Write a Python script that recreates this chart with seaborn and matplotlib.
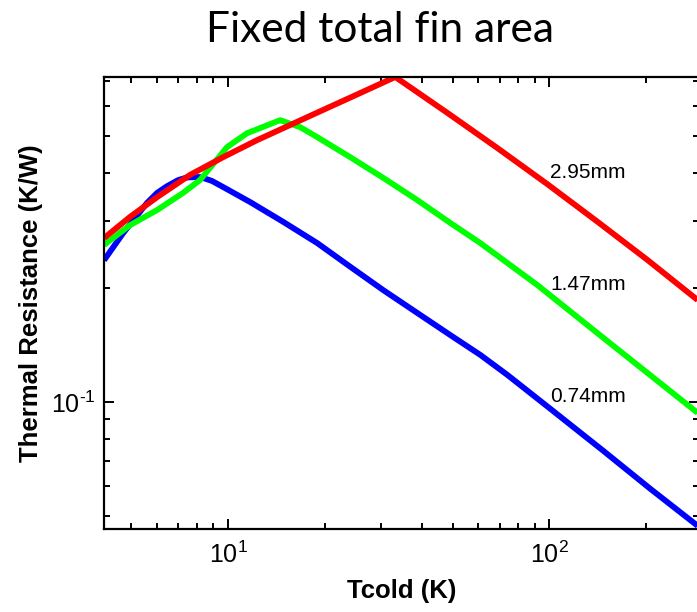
import numpy as np
import pandas as pd
import matplotlib
matplotlib.use("Agg")
import matplotlib.pyplot as plt
import seaborn as sns
from matplotlib.ticker import NullFormatter, LogLocator, FuncFormatter

# Cold-side temperature (K) and thermal resistance (K/W) for three fin thicknesses
t_074 = [4.11, 4.71, 5.59, 6.01, 6.46, 7.0, 7.45, 8.18, 8.9, 9.65, 11.71, 14.84,
         18.94, 23.99, 30.40, 38.80, 49.15, 60.95, 74.0, 100.7, 147.3, 206.4, 289.2]
r_074 = [0.236, 0.278, 0.334, 0.355, 0.370, 0.384, 0.390, 0.391, 0.382, 0.368,
         0.336, 0.298, 0.262, 0.227, 0.197, 0.1715, 0.150, 0.133, 0.1178, 0.0959,
         0.0743, 0.0590, 0.0472]

t_147 = [4.11, 4.95, 6.01, 7.24, 8.18, 9.93, 11.46, 14.52, 16.76, 18.94,
         23.99, 30.40, 38.80, 49.15, 60.95, 91.8, 147.3, 289.2]
r_147 = [0.259, 0.292, 0.320, 0.355, 0.384, 0.469, 0.510, 0.552, 0.529, 0.498,
         0.441, 0.389, 0.340, 0.296, 0.262, 0.203, 0.1474, 0.0936]

t_295 = [4.11, 4.95, 6.01, 7.61, 9.65, 12.31, 14.84, 18.94, 23.99, 28.29,
         33.13, 36.90, 48.10, 68.87, 98.6, 141.1, 202.0, 289.2]
r_295 = [0.270, 0.307, 0.346, 0.396, 0.441, 0.489, 0.5257, 0.5778, 0.6328, 0.6745,
         0.717, 0.6735, 0.577, 0.4661, 0.3743, 0.2982, 0.2364, 0.1855]

thickness_labels = ["0.74mm", "1.47mm", "2.95mm"]
label_x = [100.7, 100.7, 100.7]
label_y = [0.1031, 0.2044, 0.403]
line_colors = ["#0000ff", "#00ff00", "#ff0000"]

sns.set_theme(style="white")
plt.rcParams["font.family"] = ["Liberation Sans", "DejaVu Sans"]
plt.rcParams["mathtext.fontset"] = "custom"
plt.rcParams["mathtext.rm"] = "Liberation Sans"
plt.rcParams["mathtext.it"] = "Liberation Sans:italic"
plt.rcParams["mathtext.bf"] = "Liberation Sans:bold"
plt.rcParams["axes.unicode_minus"] = False
plt.rcParams["text.color"] = "black"
plt.rcParams["axes.labelcolor"] = "black"

fig = plt.figure(figsize=(6.97, 6.12), dpi=100)
ax = fig.add_axes([104 / 697, 1 - 529 / 612, (699 - 104) / 697, (529 - 77) / 612])

series = [(t_074, r_074), (t_147, r_147), (t_295, r_295)]
for (t, r), c in zip(series, line_colors):
    df = pd.DataFrame({"T": t, "R": r})
    sns.lineplot(data=df, x="T", y="R", ax=ax, color=c, lw=4.2,
                 sort=False, estimator=None, solid_capstyle="butt",
                 solid_joinstyle="round")

ax.set_xscale("log")
ax.set_yscale("log")
ax.set_xlim(4.11, 292)
ax.set_ylim(0.0463, 0.717)


def decade_label(v, pos):
    e = int(round(np.log10(v)))
    exp = r"\text{-}%d" % abs(e) if e < 0 else "%d" % e
    return r"$\mathdefault{10^{%s}}$" % exp


ax.xaxis.set_major_locator(LogLocator(base=10))
ax.yaxis.set_major_locator(LogLocator(base=10))
ax.xaxis.set_major_formatter(FuncFormatter(decade_label))
ax.yaxis.set_major_formatter(FuncFormatter(decade_label))
ax.xaxis.set_minor_locator(LogLocator(base=10, subs=np.arange(2, 10)))
ax.yaxis.set_minor_locator(LogLocator(base=10, subs=np.arange(2, 10)))
ax.xaxis.set_minor_formatter(NullFormatter())
ax.yaxis.set_minor_formatter(NullFormatter())

for s in ax.spines.values():
    s.set_color("black")
    s.set_linewidth(1.6)

ax.tick_params(which="both", direction="in", bottom=True, left=True,
               top=True, right=True, colors="black", width=1.4)
ax.tick_params(which="major", length=7, labelsize=18)
ax.tick_params(which="minor", length=4)
ax.tick_params(axis="x", which="major", pad=9)
ax.tick_params(axis="y", which="major", pad=6)

ax.set_xlabel("Tcold (K)", fontsize=18.5, fontweight="bold", labelpad=8)
ax.set_ylabel("Thermal Resistance (K/W)", fontsize=18.5, fontweight="bold", labelpad=6)

for lab, x, y in zip(thickness_labels, label_x, label_y):
    ax.text(x, y, lab, fontsize=15, va="center", ha="left", color="black")

fig.text(380 / 697, 1 - 30 / 612, "Fixed total fin area", ha="center", va="center",
         fontsize=30.5, family=["Lato", "DejaVu Sans"], color="black")

fig.savefig("out.png", dpi=100)
